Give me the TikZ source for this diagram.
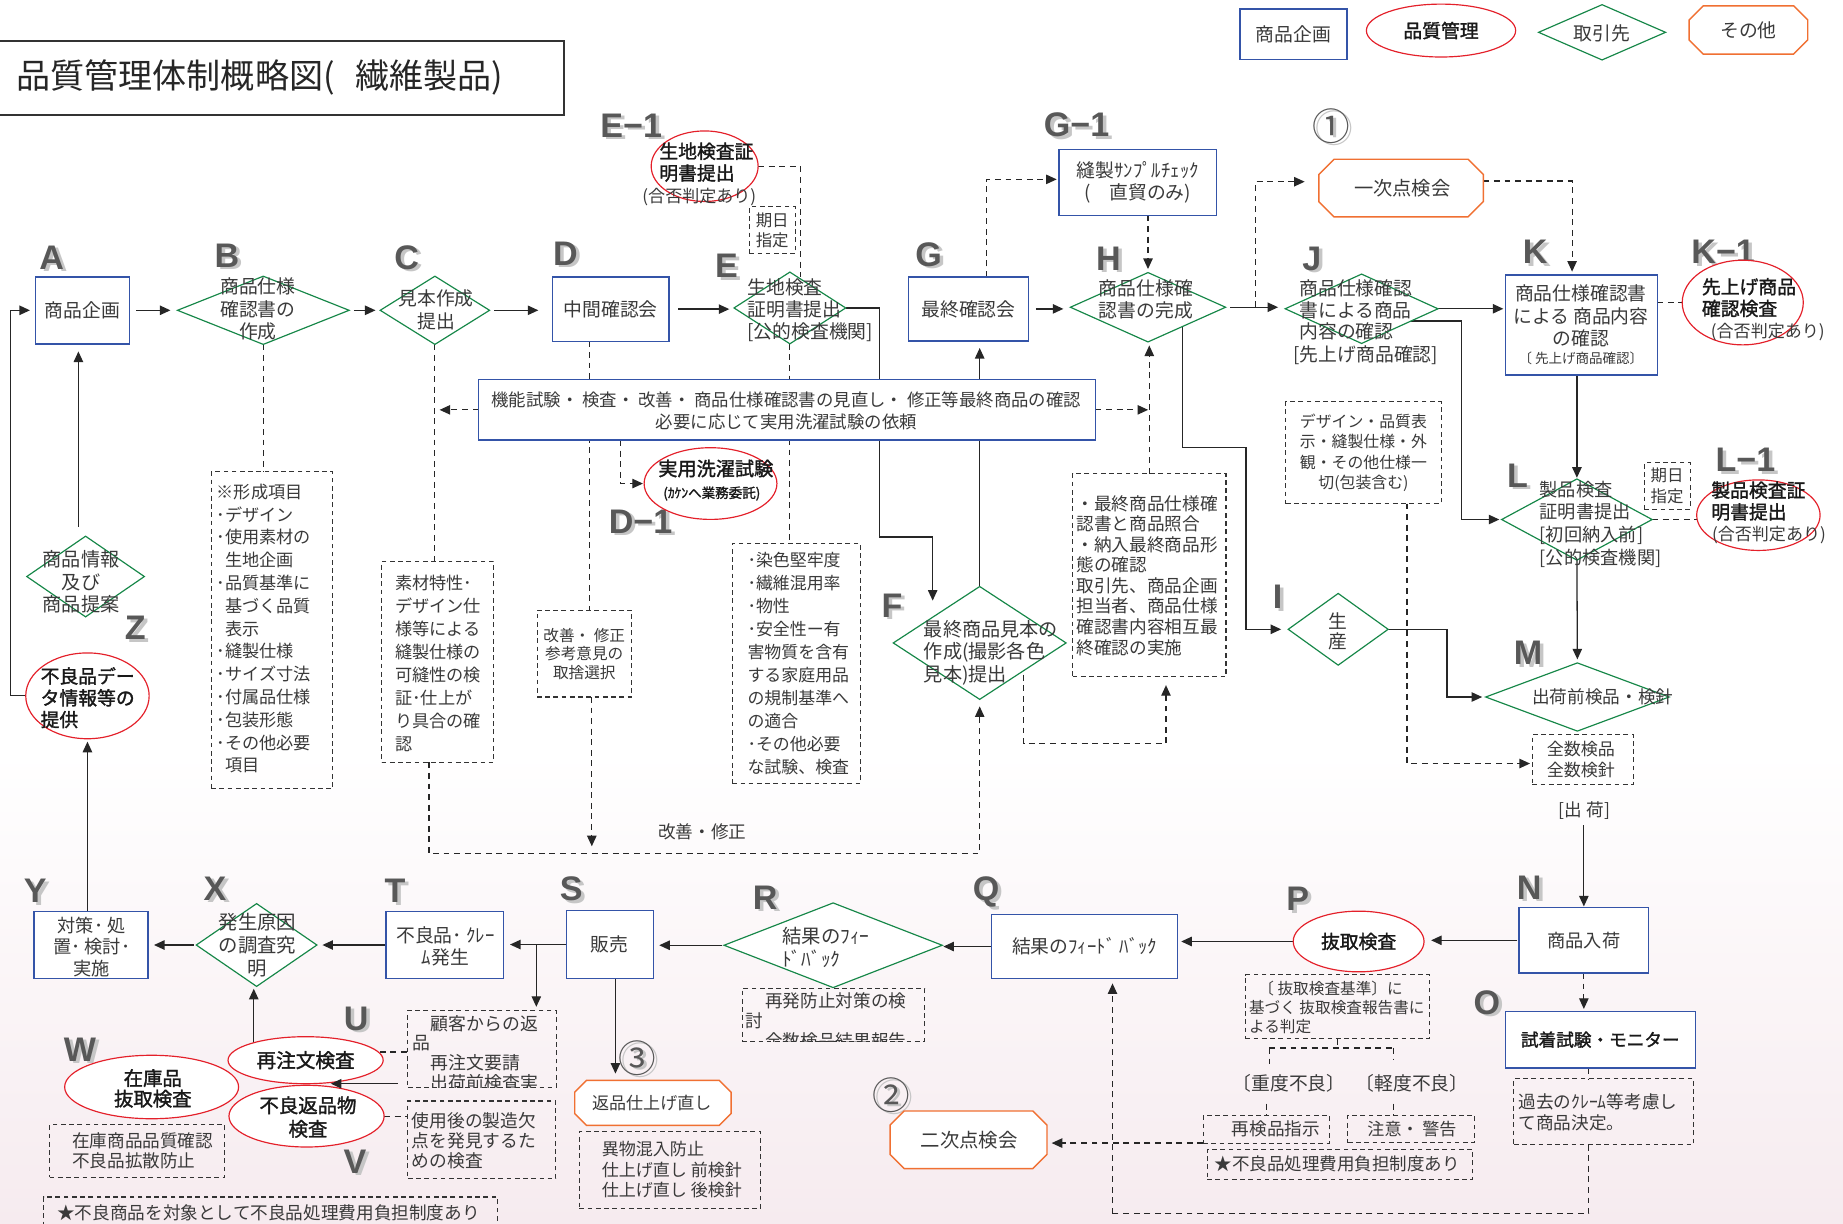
\documentclass[tikz,border=0pt]{standalone}
\usepackage{fontspec}
\setmainfont{Noto Sans CJK JP}
\newfontfamily\fbf{Noto Sans CJK JP}[FakeBold=1.6]
\newfontfamily\latf{Liberation Sans}
\usetikzlibrary{shapes.geometric,arrows.meta,calc}
\pgfdeclarelayer{back}
\pgfdeclarelayer{lines}
\pgfsetlayers{back,lines,main}
\definecolor{bblue}{RGB}{52,84,168}
\definecolor{dgreen}{RGB}{22,135,72}
\definecolor{ered}{RGB}{228,32,42}
\definecolor{oorange}{RGB}{240,112,50}
\definecolor{txt}{RGB}{58,58,58}
\definecolor{btxt}{RGB}{25,25,25}
\definecolor{lgray}{RGB}{88,88,88}
\definecolor{shgray}{RGB}{198,198,198}
\definecolor{bgpink}{RGB}{246,235,239}
\newcommand{\fsz}[2]{\fontsize{#1}{#2}\selectfont}
\newcommand{\biglab}[4]{\node[lsh] (#1s) at ($(#2,#3)+(3,2)$) {#4};\node[lbl] (#1) at (#2,#3) {#4};}
\newcommand{\circnum}[4]{\node[csh] (#1s) at ($(#2,#3)+(2.5,2)$) {#4};\node[clb] (#1) at (#2,#3) {#4};}
\newcommand{\octag}[2]{\draw[octl] ($(#1.north west)+(#2,0)$) -- ($(#1.north east)+(-#2,0)$) -- ($(#1.north east)+(0,#2)$) -- ($(#1.south east)+(0,-#2)$) -- ($(#1.south east)+(-#2,0)$) -- ($(#1.south west)+(#2,0)$) -- ($(#1.south west)+(0,-#2)$) -- ($(#1.north west)+(0,#2)$) -- cycle;}
\tikzset{
 every node/.style={inner sep=0pt, outer sep=0pt, text=txt},
 sbox/.style={draw=bblue, line width=1.2pt, fill=white, rectangle},
 dmd/.style={draw=dgreen, line width=1pt, fill=white, diamond},
 ell/.style={draw=ered, line width=1pt, fill=white, ellipse},
 octn/.style={rectangle},
 octl/.style={draw=oorange, line width=1.2pt, fill=white},
 dbox/.style={draw=black!80, dash pattern=on 4pt off 3pt, line width=0.9pt, rectangle},
 con/.style={line width=1.1pt, draw=black!85},
 arr/.style={con, -{Triangle[length=9pt,width=8pt]}},
 dcon/.style={line width=1pt, draw=black!85, dash pattern=on 5pt off 4pt},
 darr/.style={dcon, -{Triangle[length=9pt,width=8pt]}},
 lbl/.style={font=\latf\bfseries\fsz{29}{29}, text=lgray},
 lsh/.style={font=\latf\bfseries\fsz{29}{29}, text=shgray},
 clb/.style={font=\fsz{32}{32}, text=lgray},
 csh/.style={font=\fsz{32}{32}, text=shgray},
 bt/.style={font=\fbf\fsz{16}{18.5}, text=btxt},
}
\begin{document}
\begin{tikzpicture}[x=1pt,y=-1pt]
\useasboundingbox (0,0) rectangle (1568,1041);
\begin{pgfonlayer}{back}
\fill[white] (0,0) rectangle (1568,1041);
\shade[top color=white,bottom color=bgpink] (0,640) rectangle (1568,1041);
\end{pgfonlayer}

% ---------- title ----------
\node[draw=black!80, line width=1.2pt, minimum width=481, minimum height=63, anchor=north west] (title) at (-1,35) {};
\node[anchor=west, font=\fsz{29}{30}, text=black!85] (titlet) at (14,66) {品質管理体制概略図(\hspace{0.6em}繊維製品)};

% ---------- legend ----------
\node[sbox, minimum width=91, minimum height=43, font=\fsz{16}{19}] (lg1) at (1100.5,29) {商品企画};
\node[ell, minimum width=127, minimum height=45, bt] (lg2) at (1226,26) {品質管理};
\node[dmd, minimum width=108, minimum height=47] (lg3) at (1363,27.5) {};
\node[font=\fsz{16}{19}] (lg3t) at (1363,28) {取引先};
\node[octn, minimum width=101, minimum height=41] (lg4) at (1487.5,25.5) {};
\octag{lg4}{12}
\node[font=\fsz{16}{19}] (lg4t) at (lg4) {その他};

% ---------- letters ----------
\biglab{LA}{44}{219}{A}
\biglab{LB}{193}{217.5}{B}
\biglab{LC}{346}{219}{C}
\biglab{LD}{481}{216}{D}
\biglab{LE}{618}{226.5}{E}
\biglab{LE1}{537}{107}{E−1}
\biglab{LG}{790}{216.5}{G}
\biglab{LG1}{916}{106.5}{G−1}
\biglab{LH}{943}{220}{H}
\biglab{LJ}{1116}{220}{J}
\biglab{LK}{1306}{214.5}{K}
\biglab{LK1}{1466}{214.5}{K−1}
\biglab{LL}{1291}{404.5}{L}
\biglab{LL1}{1485}{391.5}{L−1}
\biglab{LM}{1300}{555.5}{M}
\biglab{LI}{1087}{508}{I}
\biglab{LF}{759}{515}{F}
\biglab{LD1}{545}{443.5}{D−1}
\biglab{LZ}{115}{534.5}{Z}
\biglab{LN}{1301}{755}{N}
\biglab{LO}{1265}{853}{O}
\biglab{LP}{1104}{765}{P}
\biglab{LQ}{839}{759}{Q}
\biglab{LR}{651}{763.5}{R}
\biglab{LS}{486}{756.5}{S}
\biglab{LT}{336}{758}{T}
\biglab{LX}{183}{756}{X}
\biglab{LY}{30}{758}{Y}
\biglab{LU}{303}{867}{U}
\biglab{LV}{302}{988.5}{V}
\biglab{LW}{68}{893}{W}
\circnum{C1}{1133}{107}{①}
\circnum{C2}{758}{931.5}{②}
\circnum{C3}{542}{900}{③}

% ---------- row 1 ----------
\node[sbox, minimum width=80, minimum height=57, font=\fsz{16}{19}] (A) at (70,264) {商品企画};
\node[dmd, minimum width=146, minimum height=58] (B) at (224,264) {};
\node[font=\fsz{16}{19.2}, align=center] (Bt) at (219.5,263) {商品仕様\\確認書の\\作成};
\node[dmd, minimum width=93, minimum height=58] (C) at (370,264) {};
\node[font=\fsz{16}{20}, align=center] (Ct) at (371,263.8) {見本作成\\提出};
\node[sbox, minimum width=99, minimum height=55, font=\fsz{16}{19}] (D) at (519.5,263) {中間確認会};
\node[dmd, minimum width=95, minimum height=61] (E) at (672,262) {};
\node[font=\fsz{16}{18.5}, align=left, anchor=west] (Et) at (636,263.8) {生地検査\\証明書提出\\\relax[公的検査機関]};
\node[ell, minimum width=91, minimum height=60] (E1) at (599.5,141.4) {};
\node[bt, align=left, anchor=west] (E1t) at (561,138) {生地検査証\\明書提出};
\node[font=\fsz{14.5}{17}] (E1n) at (595,167.4) {(合否判定あり)};
\node[dbox, minimum width=39, minimum height=40] (kj1) at (657,196) {};
\node[font=\fsz{14}{17.6}, align=left] (kj1t) at (kj1) {期日\\指定};
\node[sbox, minimum width=102.5, minimum height=54.5, font=\fsz{16}{19}] (G) at (824,262.8) {最終確認会};
\node[sbox, minimum width=134, minimum height=56, font=\fsz{16}{18.5}, align=center] (G1) at (968,155.4) {縫製ｻﾝﾌﾟﾙﾁｪｯｸ\\(　直貿のみ)};
\node[dmd, minimum width=132, minimum height=59] (H) at (976.7,261.4) {};
\node[font=\fsz{16}{18.5}, align=left, anchor=west] (Ht) at (935,254.6) {商品仕様確\\認書の完成};
\node[octn, minimum width=140, minimum height=49] (O1) at (1192,160) {};
\octag{O1}{13}
\node[font=\fsz{16.4}{19}] (O1t) at (1193,160) {一次点検会};
\node[dmd, minimum width=130, minimum height=59] (J) at (1158.4,262.7) {};
\node[font=\fsz{16}{18.5}, align=left, anchor=west] (Jt) at (1105.5,263.8) {商品仕様確認\\書による商品\\内容の確認};
\node[font=\fsz{16}{18}] (Jb) at (1162,302) {[先上げ商品確認]};
\node[sbox, minimum width=129, minimum height=85] (K) at (1345.5,276.6) {};
\node[font=\fsz{16}{19.2}, align=center] (Kt) at (1345,268.8) {商品仕様確認書\\による 商品内容\\の確認};
\node[font=\fsz{11.5}{14}] (Kb) at (1345,305) {〔 先上げ商品確認〕};
\node[ell, minimum width=103, minimum height=72] (K1) at (1482.7,257.4) {};
\node[bt, align=left, anchor=west] (K1t) at (1448,253.2) {先上げ商品\\確認検査};
\node[font=\fsz{14.5}{17}] (K1n) at (1504,282.3) {(合否判定あり)};

% ---------- middle ----------
\node[sbox, minimum width=525, minimum height=51.5] (kino) at (669.5,348.7) {};
\node[font=\fsz{14.8}{18.5}, align=center] (kinot) at (669,349.6) {機能試験・ 検査・ 改善・ 商品仕様確認書の見直し・ 修正等最終商品の確認\\必要に応じて実用洗濯試験の依頼};
\node[ell, minimum width=113, minimum height=61] (D1) at (604.5,411.4) {};
\node[font=\fbf\fsz{16.3}{19}, text=btxt] (D1t) at (609,398.6) {実用洗濯試験};
\node[font=\fbf\fsz{11.5}{14}, text=btxt] (D1n) at (605.6,419.9) {(ｶｹﾝへ業務委託)};

\node[dbox, minimum width=103.5, minimum height=269.5] (KI) at (231.4,536.2) {};
\node[font=\fsz{14.6}{19.4}, align=left, anchor=west] (KIt) at (184.4,534.8) {※形成項目\\･デザイン\\･使用素材の\\\hspace*{0.5em}生地企画\\･品質基準に\\\hspace*{0.5em}基づく品質\\\hspace*{0.5em}表示\\･縫製仕様\\･サイズ寸法\\･付属品仕様\\･包装形態\\･その他必要\\\hspace*{0.5em}項目};
\node[dbox, minimum width=95, minimum height=171] (SZ) at (372.3,563.1) {};
\node[font=\fsz{14.6}{19.6}, align=left, anchor=west] (SZt) at (336.2,564.3) {素材特性･\\デザイン仕\\様等による\\縫製仕様の\\可縫性の検\\証･仕上が\\り具合の確\\認};
\node[dbox, minimum width=80.4, minimum height=74] (KZ) at (497.1,556) {};
\node[font=\fsz{13.3}{16}, align=center] (KZt) at (497.1,556.4) {改善・ 修正\\参考意見の\\取捨選択};
\node[font=\fsz{15}{18}] (KS) at (597.5,707.7) {改善・修正};
\node[dbox, minimum width=109, minimum height=204.3] (SE) at (677.5,564.5) {};
\node[font=\fsz{14.4}{19.55}, align=left, anchor=west] (SEt) at (636,564.5) {･染色堅牢度\\･繊維混用率\\･物性\\･安全性ー有\\害物質を含有\\する家庭用品\\の規制基準へ\\の適合\\･その他必要\\な試験、検査};
\node[dmd, minimum width=147, minimum height=96] (F) at (833.5,547) {};
\node[font=\fsz{16.3}{19.2}, align=left, anchor=west] (Ft) at (786,555.3) {最終商品見本の\\作成(撮影各色\\見本)提出};
\node[dbox, minimum width=130.5, minimum height=173] (SS) at (977.8,489.4) {};
\node[font=\fsz{15}{17.5}, align=left, anchor=west] (SSt) at (916,489.6) {・最終商品仕様確\\認書と商品照合\\・納入最終商品形\\態の確認\\取引先、商品企画\\担当者、商品仕様\\確認書内容相互最\\終確認の実施};

\node[dbox, minimum width=132, minimum height=86.6] (DZ) at (1160,385.1) {};
\node[font=\fsz{13.5}{17.5}, align=center] (DZt) at (1160,385.2) {デザイン・品質表\\示・縫製仕様・外\\観・その他仕様一\\切(包装含む)};
\node[dmd, minimum width=85, minimum height=61] (I) at (1138.5,535.4) {};
\node[font=\fsz{16}{17}, align=center] (It) at (1138.5,537.5) {生\\産};
\node[dmd, minimum width=128, minimum height=69] (L) at (1341.6,442) {};
\node[font=\fsz{15.5}{19.3}, align=left, anchor=west] (Lt) at (1310,446) {製品検査\\証明書提出\\\relax[初回納入前]\\\relax[公的検査機関]};
\node[dbox, minimum width=39, minimum height=40] (kj2) at (1418.4,413.6) {};
\node[font=\fsz{14}{17.6}, align=left] (kj2t) at (kj2) {期日\\指定};
\node[ell, minimum width=105, minimum height=60] (L1) at (1496,438.3) {};
\node[bt, align=left, anchor=west] (L1t) at (1456,426.3) {製品検査証\\明書提出};
\node[font=\fsz{14.5}{17}] (L1n) at (1505,455.3) {(合否判定あり)};
\node[dmd, minimum width=156, minimum height=58] (M) at (1342,593) {};
\node[font=\fsz{15}{18}, anchor=west] (Mt) at (1303.6,593) {出荷前検品・検針};
\node[dbox, minimum width=86, minimum height=42.5] (ZS) at (1346.7,646.2) {};
\node[font=\fsz{14.5}{17.5}, align=center] (ZSt) at (1345,646) {全数検品\\全数検針};
\node[font=\fsz{15}{18}] (SK) at (1348,689.4) {[出 荷]};

% ---------- left column ----------
\node[dmd, minimum width=100, minimum height=68.6] (Zd) at (72.8,490.5) {};
\node[font=\fsz{16.3}{19}, align=center] (Zdt) at (69,495) {商品情報\\及び\\商品提案};
\node[ell, minimum width=105, minimum height=73] (FD) at (74.4,592) {};
\node[bt, align=left, anchor=west] (FDt) at (34.6,593.6) {不良品デー\\タ情報等の\\提供};

% ---------- bottom row ----------
\node[sbox, minimum width=110, minimum height=55.6, font=\fsz{15.5}{18}] (N) at (1347.5,800) {商品入荷};
\node[ell, minimum width=111.3, minimum height=51.6, bt] (P) at (1155.9,801) {抜取検査};
\node[sbox, minimum width=158.3, minimum height=54.7, font=\fsz{16}{18}] (Q) at (922.8,805.3) {結果のﾌｨｰﾄﾞ ﾊﾞｯｸ};
\node[dmd, minimum width=185.6, minimum height=72] (R) at (708.8,804.2) {};
\node[font=\fsz{16.5}{19}, align=left, anchor=west] (Rt) at (665.5,806.1) {結果のﾌｨｰ\\ﾄﾞﾊﾞｯｸ};
\node[sbox, minimum width=74.1, minimum height=58.1, font=\fsz{16}{18}] (S) at (518.8,803.6) {販売};
\node[sbox, minimum width=100, minimum height=57.3] (T) at (378.4,804) {};
\node[font=\fsz{16}{18.5}, align=center] (Tt) at (379,805) {不良品･ ｸﾚｰ\\ﾑ発生};
\node[dmd, minimum width=102.6, minimum height=70.4] (X) at (218.3,804) {};
\node[font=\fsz{16.5}{19.5}, align=center] (Xt) at (219,803.8) {発生原因\\の調査究\\明};
\node[sbox, minimum width=97.2, minimum height=57.3] (Y) at (77.4,804) {};
\node[font=\fsz{15.5}{18.4}, align=center] (Yt) at (78,805.6) {対策･ 処\\置･ 検討･\\実施};

\node[dbox, minimum width=126.2, minimum height=65.8] (KO) at (410.1,892.5) {};
\begin{scope}
\clip (KO.south west) rectangle (KO.north east);
\node[font=\fsz{15.2}{16.8}, align=left, anchor=north west] (KOt) at (351.3,863.6) {\hspace*{1em}顧客からの返\\品\\\hspace*{1em}再注文要請\\\hspace*{1em}出荷前検査実};
\end{scope}
\node[dbox, minimum width=126, minimum height=66] (SY) at (410,969.7) {};
\node[font=\fsz{15.1}{17}, align=left, anchor=west] (SYt) at (350.5,970.2) {使用後の製造欠\\点を発見するた\\めの検査};
\node[ell, minimum width=148, minimum height=54] (W) at (129,924.8) {};
\node[font=\fbf\fsz{16.5}{17.5}, align=center, text=btxt] (Wt) at (130,926) {在庫品\\抜取検査};
\node[ell, minimum width=132, minimum height=40, font=\fbf\fsz{16.7}{19}, text=btxt] (U) at (260,902) {再注文検査};
\node[ell, minimum width=132, minimum height=52.5] (V) at (260.8,949.6) {};
\node[font=\fbf\fsz{16.5}{20}, align=center, text=btxt] (Vt) at (262,950.4) {不良返品物\\検査};
\node[dbox, minimum width=149, minimum height=44.5] (ZA) at (116.8,979.2) {};
\node[font=\fsz{15}{17.6}, align=left, anchor=west] (ZAt) at (61.4,979) {在庫商品品質確認\\不良品拡散防止};
\node[dbox, minimum width=386, minimum height=40, anchor=north west] (ST1) at (37.2,1018.4) {};
\node[font=\fsz{15}{18}, anchor=west] (ST1t) at (48.7,1032) {★不良商品を対象として不良品処理費用負担制度あり};

\node[octn, minimum width=133, minimum height=38.3] (O3) at (555.5,938.3) {};
\octag{O3}{10}
\node[font=\fsz{14.5}{17}] (O3t) at (554.5,938.4) {返品仕上げ直し};
\node[dbox, minimum width=153.8, minimum height=65.8] (IB) at (569.9,995.5) {};
\node[font=\fsz{14.5}{17.4}, align=left, anchor=west] (IBt) at (512,995.4) {異物混入防止\\仕上げ直し 前検針\\仕上げ直し 後検針};

\node[dbox, minimum width=155.3, minimum height=44.6] (RB) at (709,863.4) {};
\begin{scope}
\clip (RB.south west) rectangle (RB.north east);
\node[font=\fsz{15}{17}, align=left, anchor=north west] (RBt) at (634.6,844.3) {\hspace*{1.1em}再発防止対策の検\\討\\\hspace*{1.1em}全数検品結果報告};
\end{scope}

\node[dbox, minimum width=156.7, minimum height=54.5] (PB) at (1137.9,856.4) {};
\node[font=\fsz{13.3}{16}, align=left, anchor=west] (PBt) at (1062.7,857) {\hspace*{0.6em}〔 抜取検査基準〕に\\基づく 抜取検査報告書に\\よる判定};
\node[font=\fsz{16}{18}] (JD) at (1096.8,922) {〔重度不良〕};
\node[font=\fsz{16}{18}] (KD) at (1201.4,921.9) {〔軽度不良〕};
\node[dbox, minimum width=107.3, minimum height=23.5] (RK) at (1077.35,960.75) {};
\node[font=\fsz{15}{17}] (RKt) at (1085.5,960.5) {再検品指示};
\node[dbox, minimum width=107.8, minimum height=23.1] (CK) at (1200.6,960.5) {};
\node[font=\fsz{14.5}{17}] (CKt) at (1201.3,961) {注意・ 警告};
\node[dbox, minimum width=225.8, minimum height=25.6] (ST2) at (1139.9,990.6) {};
\node[font=\fsz{14.9}{17}, anchor=west] (ST2t) at (1033.5,990.5) {★不良品処理費用負担制度あり};
\node[octn, minimum width=133.5, minimum height=49] (O2) at (824,969.7) {};
\octag{O2}{12}
\node[font=\fsz{16.5}{19}] (O2t) at (824.6,970.2) {二次点検会};

\node[sbox, minimum width=161.5, minimum height=48.2, font=\fbf\fsz{15}{18}, text=btxt] (Ob) at (1361.5,884.5) {試着試験・モニター};
\node[dbox, minimum width=152.8, minimum height=56.2] (KK) at (1364.4,945.8) {};
\node[font=\fsz{15}{18}, align=left, anchor=west] (KKt) at (1292,946.5) {過去のｸﾚｰﾑ等考慮し\\て商品決定。};

% arrow drawn over the ellipses
\coordinate (uv0) at (338.6,922);
\coordinate (uv) at (281.5,922);
\draw[arr] (uv0) -- (uv);

% ---------- coordinates ----------
\coordinate (ef1) at (748.5,456.8);
\coordinate (ef2) at (793.5,456.8);
\coordinate (ef3) at (793.5,511);
\coordinate (e1v) at (680.8,235.5);
\coordinate (g1) at (839.5,152.6);
\coordinate (h1) at (1068,154.6);
\coordinate (k1) at (1337.5,154);
\coordinate (jl) at (1243.4,273.2);
\coordinate (hi1) at (1006,380.7);
\coordinate (hi2) at (1060,380.7);
\coordinate (im1) at (1231,560);
\coordinate (dz1) at (1197,649.6);
\coordinate (fs1) at (870.9,632.6);
\coordinate (fs2) at (992,632.6);
\coordinate (kd) at (527.7,411.4);
\coordinate (dx) at (501.6,300);
\coordinate (kb) at (503.5,720);
\coordinate (sb1) at (365,726.2);
\coordinate (za) at (66.7,448.2);
\coordinate (lx) at (8.8,592);
\coordinate (st) at (456.3,803.6);
\coordinate (s3) at (523.6,832.6);
\coordinate (ko1) at (336,895);
\coordinate (ux) at (215.9,887.4);
\coordinate (br1) at (1080,891.6);
\coordinate (br2) at (1185.9,891.6);
\coordinate (br1b) at (1080,905);
\coordinate (br2b) at (1185.9,902);
\coordinate (jd1) at (1077.4,939);
\coordinate (kd1) at (1185.9,939);
\coordinate (qv) at (946.5,1032.6);
\coordinate (kk1) at (1351.8,1032.6);

\begin{pgfonlayer}{lines}
% row 1 flow
\draw[arr, shorten <=6pt, shorten >=6pt] (A) -- (B);
\draw[arr, shorten <=4pt, shorten >=4pt] (B) -- (C);
\draw[arr, shorten <=4pt, shorten >=12pt] (C) -- (C -| D.west);
\draw[arr, shorten <=8pt, shorten >=4pt] (D.east) -- (D.east -| E.west);
\draw[arr] (E.east) -| (ef1) -- (ef2) -- (ef3);
\draw[arr, shorten >=6pt] (F.north) -- (F.north |- G.south);
\draw[arr, shorten <=6pt, shorten >=6pt] (G.east) -- (G.east -| H.west);
\draw[arr, shorten <=4pt, shorten >=6pt] (H.east) -- (H.east -| J.west);
\draw[arr, shorten >=2pt] (J.east) -- (J.east -| K.west);
\draw[dcon] (E1.east) -| (e1v);
\draw[darr, shorten >=2pt] (g1 |- G.north) -- (g1) -- (g1 -| G1.west);
\draw[darr, shorten >=3pt] (G1.south -| H.north) -- (H.north);
\draw[darr, shorten >=12pt] (h1 |- H.east) -- (h1) -- (h1 -| O1.west);
\draw[darr, shorten >=3pt] (k1 -| O1.east) -- (k1) -- (k1 |- K.north);
\draw[dcon] (K.east |- K1.west) -- (K1.west);
\draw[arr, shorten >=2pt] (J.center |- jl) -- (jl) |- (L.west);
\draw[arr, shorten >=1pt] (K.south -| L.north) -- (L.north);
\draw[dcon] (L.east) -- (L.east -| L1.west);
\draw[arr, shorten >=3pt] (L.south) -- (M.north);
\draw[arr, shorten >=6pt] (hi1 |- H.center) -- (hi1) -- (hi2) |- (I.west);
\draw[arr, shorten >=3pt] (I.east) -| (im1) |- (M.west);
\draw[darr, shorten >=2pt] (DZ.south -| dz1) -- (dz1) -- (dz1 -| ZS.west);
\draw[arr, shorten <=5pt, shorten >=1pt] (SK.south -| N.north) -- (N.north);
% middle
\draw[darr, shorten >=1pt] (kino.east) -- (kino.east -| SS.north);
\draw[darr, shorten >=3pt] (SS.north) -- (SS.north |- H.south);
\draw[darr, shorten >=7pt] (fs1 |- F.center) -- (fs1) -- (fs2) -- (fs2 |- SS.south);
\draw[darr, shorten >=4pt] (kino.west) -- (kino.west -| C.south);
\draw[darr, shorten >=1pt] (kino.south -| kd) -- (kd) -- (D1.west);
\draw[dcon] (D.south -| dx) -- (dx |- KZ.north);
\draw[darr] (KZ.south -| kb) -- (kb);
\draw[dcon] (C.south) -- (C.south |- SZ.north);
\draw[darr, shorten >=6pt] (SZ.south -| sb1) -- (sb1) -- (sb1 -| F.south) -- (F.south);
\draw[dcon] (B.south) -- (B.south |- KI.north);
\draw[dcon] (E.south) -- (E.south |- SE.north);
% left column
\draw[arr, shorten >=6.5pt] (za) -- (za |- A.south);
\draw[arr, shorten >=4.5pt] (FD.west) -- (lx) |- (A.west);
\draw[arr, shorten >=2.5pt] (Y.north -| FD.south) -- (FD.south);
% bottom row
\draw[arr, shorten <=1.5pt, shorten >=6pt] (N.west) -- (N.west -| P.east);
\draw[arr, shorten >=3pt] (P.west) -- (P.west -| Q.east);
\draw[arr, shorten >=1pt] (Q.west) -- (Q.west -| R.east);
\draw[arr, shorten <=2pt, shorten >=5pt] (R.west) -- (R.west -| S.east);
\draw[arr, shorten >=5.5pt] (S.west) -- (S.west -| T.east);
\draw[arr, shorten >=4.7pt] (T.west) -- (T.west -| X.east);
\draw[arr, shorten <=2pt, shorten >=5pt] (X.west) -- (X.west -| Y.east);
\draw[arr, shorten >=3pt] (st) -- (st |- KO.north);
\draw[arr, shorten >=5.7pt] (s3) -- (s3 |- O3.north);
\draw[dcon] (ko1 -| U.center) -- (ko1 -| KO.west);
\draw[arr, shorten >=2pt] (ux) -- (ux |- X.south);
\draw[dcon] (V.east) -- (V.east -| SY.west);
\draw[dcon] (PB.south) -- (PB.south |- br1);
\draw[dcon] (br1) -- (br2);
\draw[dcon] (br1) -- (br1b);
\draw[dcon] (br2) -- (br2b);
\draw[dcon] (jd1) -- (jd1 |- RK.north);
\draw[dcon] (kd1) -- (kd1 |- CK.north);
\draw[darr, shorten >=4pt] (RK.south west) -- (RK.south west -| O2.east);
\draw[darr, shorten >=4pt] (qv) -- (qv |- Q.south);
\draw[dcon] (KK.south -| kk1) -- (kk1) -- (qv);
\draw[darr, shorten >=2pt] (N.south) -- (N.south |- Ob.north);
\draw[dcon] (Ob.south -| kk1) -- (kk1 |- KK.north);
\end{pgfonlayer}
\end{tikzpicture}
\end{document}
